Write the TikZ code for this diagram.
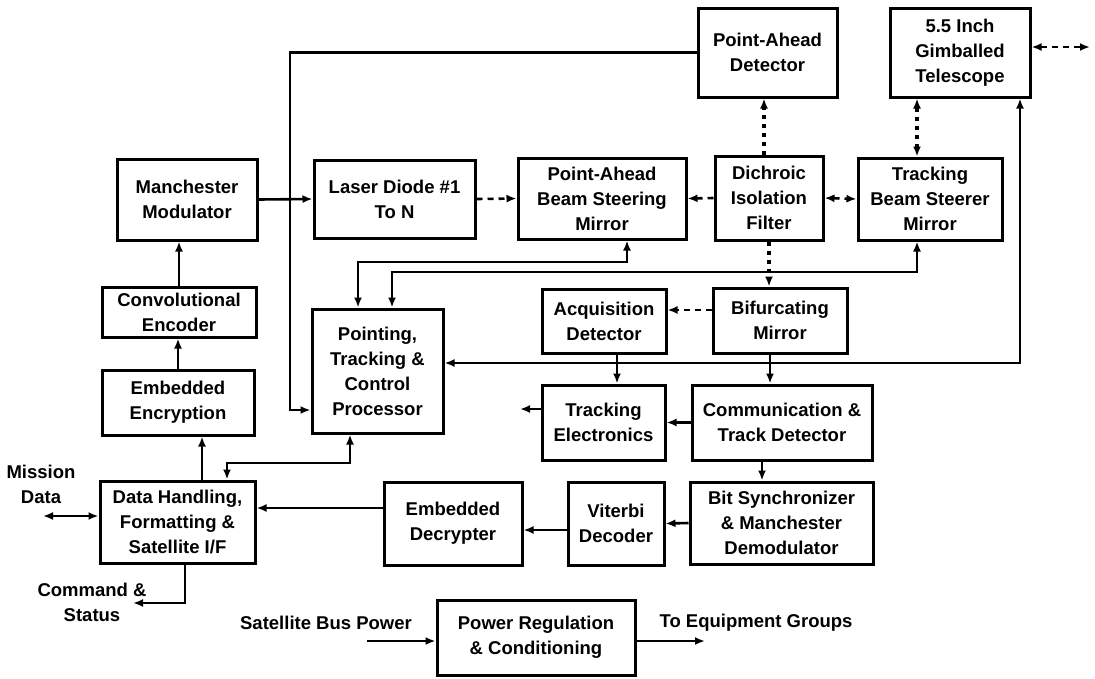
\documentclass[tikz,border=0pt]{standalone}
\usepackage{fontspec}
\setmainfont{Liberation Sans}
\usetikzlibrary{arrows.meta}
\begin{document}
\begin{tikzpicture}[x=1pt,y=-1pt]
\tikzset{
 txt/.style={font=\fontsize{18.5}{25}\selectfont\bfseries},
 box/.style={draw, line width=3pt, align=center, inner sep=0pt, txt},
 lbl/.style={align=center, inner sep=0pt, txt},
 conn/.style={line width=2.6pt},
 tip/.style={},
 arr/.style={conn, -{Latex[length=10pt,width=8pt]}},
 dbl/.style={conn, {Latex[length=10pt,width=8pt]}-{Latex[length=10pt,width=8pt]}},
 dsh/.style={dash pattern=on 6pt off 5pt},
 dts/.style={line width=3.4pt, dash pattern=on 4pt off 5pt}
}
\useasboundingbox (0,0) rectangle (1095,678);
% boxes
\node[box, minimum width=140pt, minimum height=81pt] (mm) at (187,199.5) {Manchester\\Modulator};
\node[box, minimum width=161pt, minimum height=78pt] (ld) at (394.5,199) {Laser Diode \#1\\To N};
\node[box, minimum width=168pt, minimum height=81pt] (pabsm) at (602,198.5) {Point-Ahead\\Beam Steering\\Mirror};
\node[box, minimum width=108pt, minimum height=84pt] (dif) at (769,198) {Dichroic\\Isolation\\Filter};
\node[box, minimum width=144pt, minimum height=82pt] (tbsm) at (930,199) {Tracking\\Beam Steerer\\Mirror};
\node[box, minimum width=139pt, minimum height=89pt] (pad) at (767.5,52.5) {Point-Ahead\\Detector};
\node[box, minimum width=140pt, minimum height=89pt] (tel) at (960,52.5) {5.5 Inch\\Gimballed\\Telescope};
\node[box, minimum width=134pt, minimum height=65pt] (bm) at (780,320.5) {Bifurcating\\Mirror};
\node[box, minimum width=124pt, minimum height=64pt] (acq) at (604,321) {Acquisition\\Detector};
\node[box, minimum width=131pt, minimum height=124pt] (ptcp) at (377.5,371) {Pointing,\\Tracking \&\\Control\\Processor};
\node[box, minimum width=154pt, minimum height=50pt] (ce) at (179,312) {Convolutional\\Encoder};
\node[box, minimum width=152pt, minimum height=65pt] (ee) at (178,402.5) {Embedded\\Encryption};
\node[box, minimum width=155pt, minimum height=82pt] (dh) at (177.5,522) {Data Handling,\\Formatting \&\\Satellite I/F};
\node[box, minimum width=123pt, minimum height=75pt] (te) at (603.5,422.5) {Tracking\\Electronics};
\node[box, minimum width=180pt, minimum height=75pt] (ctd) at (782,422.5) {Communication \&\\Track Detector};
\node[box, minimum width=183pt, minimum height=82pt] (bs) at (781.5,523) {Bit Synchronizer\\\& Manchester\\Demodulator};
\node[box, minimum width=96pt, minimum height=83pt] (vd) at (616,523.5) {Viterbi\\Decoder};
\node[box, minimum width=138pt, minimum height=83pt] (ed) at (453,523.5) {Embedded\\Decrypter};
\node[box, minimum width=198pt, minimum height=75pt] (pr) at (536,637.5) {Power Regulation\\\& Conditioning};
% labels
\node[lbl] (lmd) at (41,484) {Mission\\Data};
\node[lbl] (lcs) at (92,602) {Command \&\\Status};
\node[lbl] (lsbp) at (326,623) {Satellite Bus Power};
\node[lbl] (leq) at (756,623) {To Equipment Groups};
% coordinates
\coordinate (cpa) at (358,262);
\coordinate (ctb) at (392,272);
\coordinate (cte) at (1020,363);
\coordinate (cpl) at (290,410);
\coordinate (cdh) at (227,463);
\coordinate (cout) at (1090,47);
\coordinate (cts) at (520,409);
\coordinate (cmd) at (43,516);
\coordinate (ccsb) at (185,603);
\coordinate (ccs) at (133,603);
\coordinate (csbp) at (367,641);
\coordinate (ceq) at (705,641);
\coordinate (cba) at (0,310);
\coordinate (cvd) at (0,530);
\coordinate (ced) at (0,508);
% solid connectors
\draw[arr] (mm.east) -- (ld.west);
\draw[arr] (ce.north) -- (ce.north |- mm.south);
\draw[arr] (ee.north) -- (ee.north |- ce.south);
\draw[arr] ([xshift=24.5pt]dh.north) -- ([xshift=24.5pt]dh.north |- ee.south);
\draw[dbl] ([xshift=-27.5pt]ptcp.south) |- (cdh) -- (cdh |- dh.north);
\draw[arr] (pad.west) -| (cpl) -- (cpl -| ptcp.west);
\draw[dbl] ([xshift=25pt]pabsm.south) |- (cpa) -- (cpa |- ptcp.north);
\draw[dbl] ([xshift=-13pt]tbsm.south) |- (ctb) -- (ctb |- ptcp.north);
\draw[dbl] (cte -| ptcp.east) -- (cte) -- (cte |- tel.south);
\draw[arr] ([xshift=13pt]acq.south) -- ([xshift=13pt]acq.south |- te.north);
\draw[arr] ([xshift=-10pt]bm.south) -- ([xshift=-10pt]bm.south |- ctd.north);
\draw[arr] (ctd.west) -- (te.east);
\draw[arr] (te.west |- cts) -- (cts);
\draw[arr] ([xshift=-20pt]ctd.south) -- ([xshift=-20pt]ctd.south |- bs.north);
\draw[arr] (bs.west) -- (vd.east);
\draw[arr] (vd.west |- cvd) -- (ed.east |- cvd);
\draw[arr] (ed.west |- ced) -- (dh.east |- ced);
\draw[dbl] (cmd) -- (cmd -| dh.west);
\draw[arr] (ccsb |- dh.south) -- (ccsb) -- (ccs);
\draw[arr] (csbp) -- (csbp -| pr.west);
\draw[arr] (pr.east |- ceq) -- (ceq);
% dashed / dotted optical paths
\draw[arr, dsh] (ld.east) -- (pabsm.west);
\draw[arr, dsh] (dif.west) -- (pabsm.east);
\draw[dbl, dsh] (dif.east) -- (tbsm.west);
\draw[dbl, dsh] (tel.east |- cout) -- (cout);
\draw[arr, dsh] (bm.west |- cba) -- (acq.east |- cba);
\draw[dts, -{Latex[length=10pt,width=8pt]}] ([xshift=-5pt]dif.north) -- ([xshift=-5pt]dif.north |- pad.south);
\draw[dts, -{Latex[length=10pt,width=8pt]}] (dif.south) -- (dif.south |- bm.north);
\draw[dts, {Latex[length=10pt,width=8pt]}-{Latex[length=10pt,width=8pt]}] ([xshift=-43pt]tel.south) -- ([xshift=-43pt]tel.south |- tbsm.north);
\end{tikzpicture}
\end{document}
